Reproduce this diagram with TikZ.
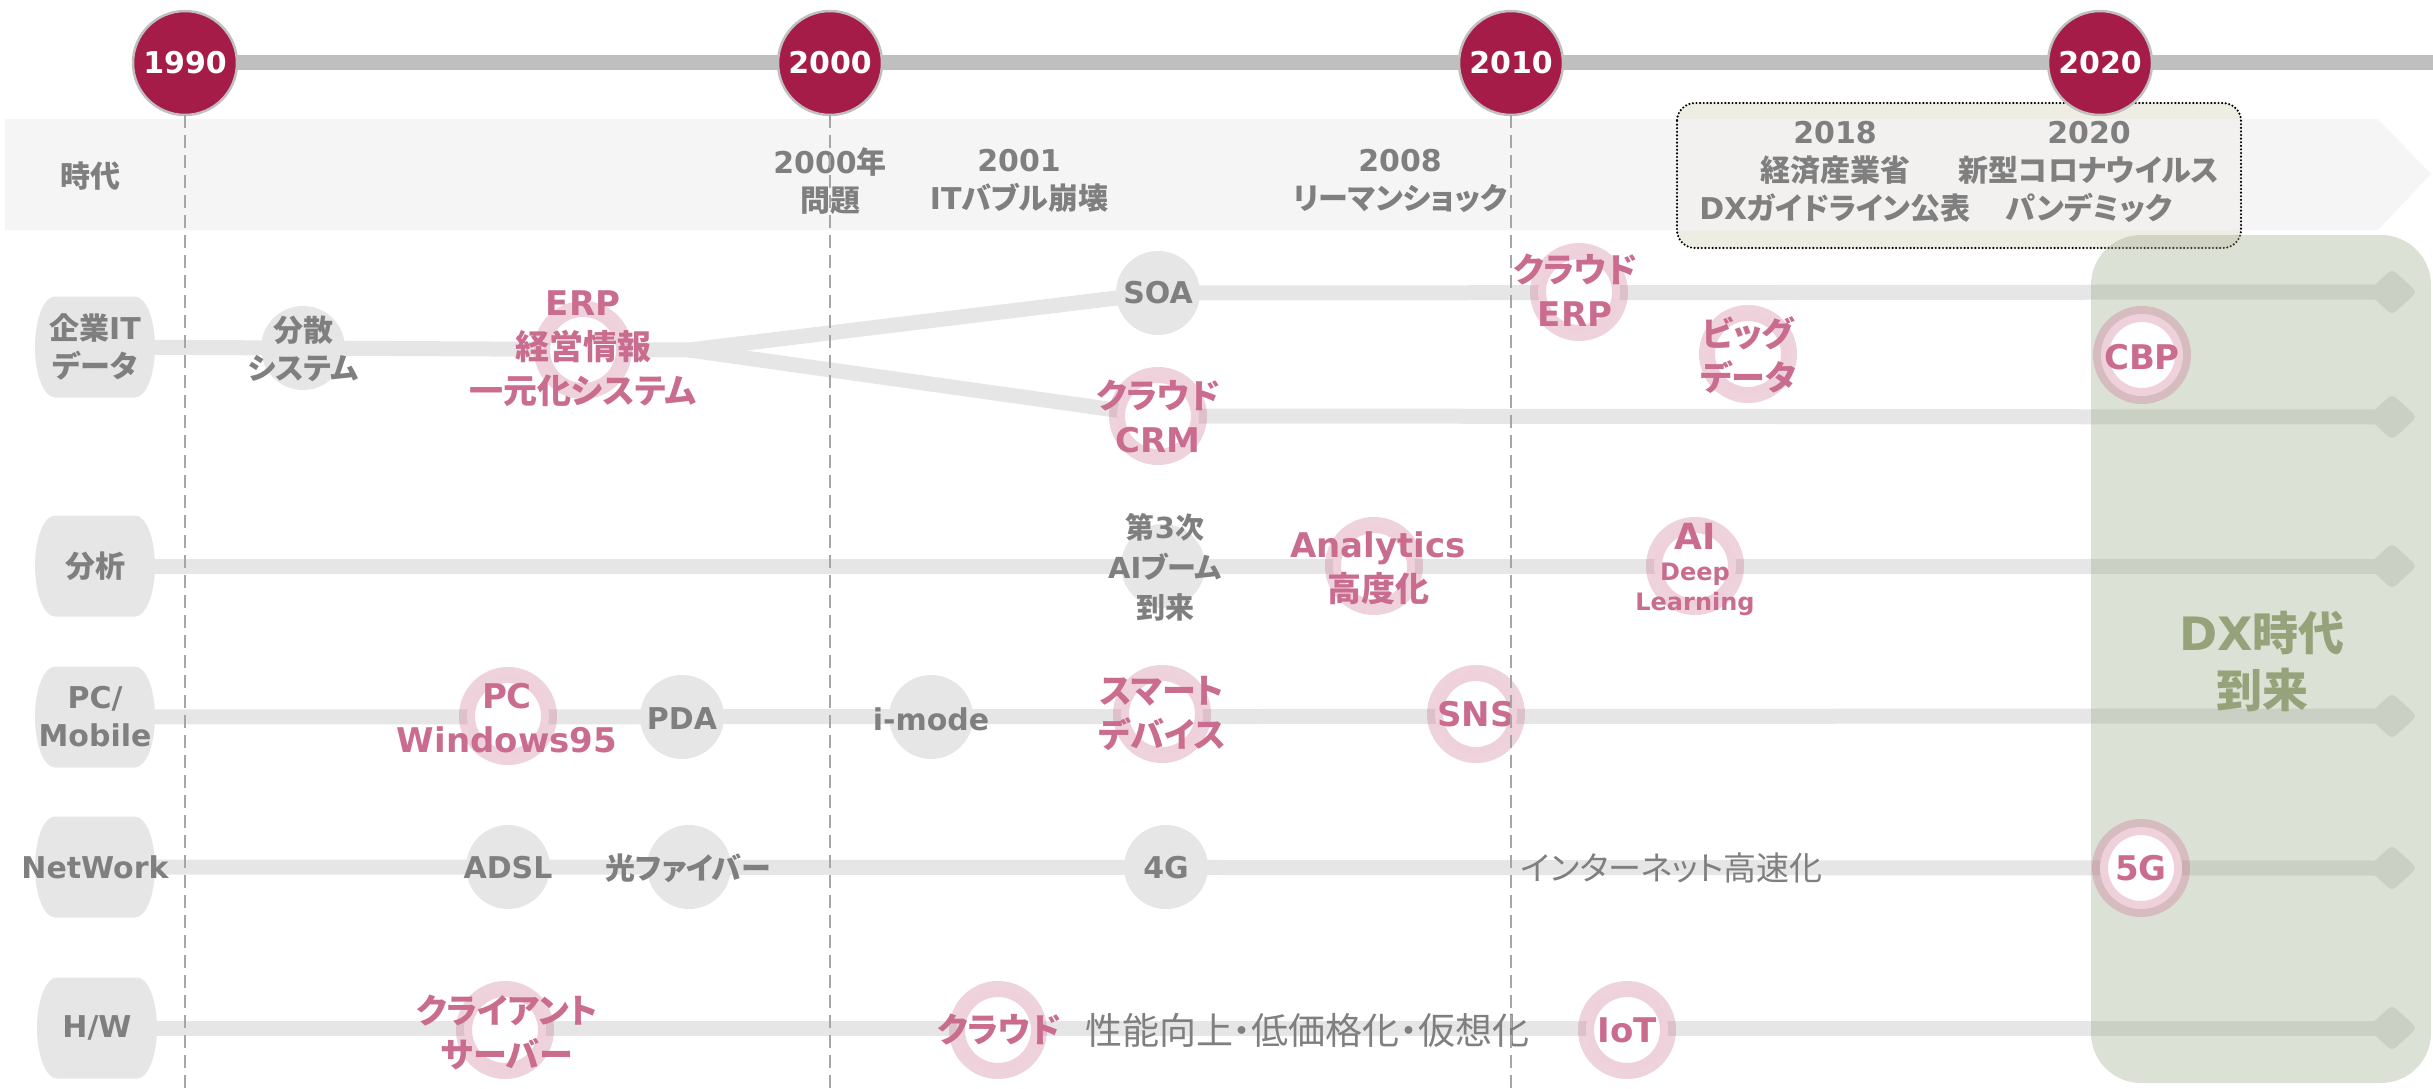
\documentclass[tikz,border=0pt]{standalone}
\usepackage{fontspec}
\setmainfont{Noto Sans CJK JP}[RawFeature={+palt}]
\newfontfamily\lat{DejaVu Sans}
\usetikzlibrary{shapes.geometric}
\pgfdeclarelayer{bgl}
\pgfdeclarelayer{linel}
\pgfdeclarelayer{greenl}
\pgfdeclarelayer{fgl}
\pgfsetlayers{bgl,linel,greenl,main,fgl}
\definecolor{crim}{HTML}{A51C48}
\definecolor{barc}{HTML}{BFBFBF}
\definecolor{lg}{HTML}{E6E6E6}
\definecolor{txtg}{HTML}{7F7F7F}
\definecolor{pk}{HTML}{C96C8E}
\definecolor{ringc}{HTML}{C8698A}
\definecolor{bandc}{HTML}{F3F3F3}
\definecolor{evbox}{HTML}{EEEDE3}
\definecolor{dxg}{HTML}{9BA88A}
\definecolor{dxt}{HTML}{95A27A}
\definecolor{dashc}{HTML}{A6A6A6}
\tikzset{
  every node/.style={inner sep=0pt, outer sep=0pt},
  yearc/.style={circle, fill=crim, draw=barc, line width=2.5pt, minimum size=104pt, text=white, font=\lat\bfseries\fontsize{30}{36}\selectfont},
  gtxt/.style={text=txtg, align=center, font=\bfseries\fontsize{30}{38}\selectfont},
  gthin/.style={text=txtg, align=center, font=\fontsize{33}{38}\selectfont},
  ptxt/.style={text=pk, align=center, font=\bfseries\fontsize{34}{44}\selectfont},
  labbox/.style={rectangle, minimum width=120pt, minimum height=101pt},
  gcirc/.style={circle, fill=lg, minimum size=84pt},
  ringnode/.style={circle, fill=white, draw=ringc, draw opacity=0.3, line width=16pt, minimum size=82pt},
  arrowhead/.style={diamond, fill=lg, minimum width=50pt, minimum height=46pt, rounded corners=5pt},
  rowline/.style={draw=lg, line width=15pt, line join=round},
  yeardash/.style={draw=dashc, line width=1.5pt, dash pattern=on 13pt off 7pt},
  dotborder/.style={draw=black, line width=2.4pt, dash pattern=on 0pt off 3.6pt, line cap=round},
}
\newcommand\rowlab[4]{%
  \fill[lg] (#2-40,#3-50.5) -- (#2+40,#3-50.5)
    arc[start angle=90,end angle=-90,x radius=20pt,y radius=50.5pt]
    -- (#2-40,#3+50.5)
    arc[start angle=270,end angle=90,x radius=20pt,y radius=50.5pt] -- cycle;
  \node[labbox, gtxt] (#1) at (#2,#3) {#4};}
\begin{document}
\begin{tikzpicture}[x=1pt,y=-1pt]
\useasboundingbox (0,0) rectangle (2433,1089);
\coordinate (barend) at (2433,63);
\coordinate (bottom) at (0,1089);
% year circles
\node[yearc] (y1990) at (185,63) {1990};
\node[yearc] (y2000) at (830,63) {2000};
\node[yearc] (y2010) at (1511,63) {2010};
\node[yearc] (y2020) at (2100,63) {2020};
% band texts
\node[gtxt] (tJidai) at (90,176) {時代};
\node[gtxt] (e2000) at (830,181) {{\lat 2000}年\\問題};
\node[gtxt] (e2001) at (1019,181) {{\lat 2001}\\{\lat IT}バブル崩壊};
\node[gtxt] (e2008) at (1400,181) {{\lat 2008}\\リーマンショック};
\node[gtxt] (e2018) at (1835,172) {{\lat 2018}\\経済産業省\\{\lat DX}ガイドライン公表};
\node[gtxt] (e2020) at (2089,172) {{\lat 2020}\\新型コロナウイルス\\パンデミック};
% row labels
\rowlab{lab1}{95}{347}{企業{\lat IT}\\データ}
\rowlab{lab2}{95}{566}{分析}
\rowlab{lab3}{95}{717}{{\lat PC/}\\{\lat Mobile}}
\rowlab{lab4}{95}{867}{{\lat NetWork}}
\rowlab{lab5}{97}{1028}{{\lat H/W}}
% row 1
\coordinate (split) at (689,350);
\node[gcirc] (cBunsan) at (303,348) {};
\node[gtxt] (tBunsan) at (303,349) {分散\\システム};
\node[ringnode] (rERP) at (583,350) {};
\node[ptxt] (tERP) at (583,349) {{\lat ERP}\\経営情報\\一元化システム};
\node[gcirc] (cSOA) at (1158,293) {};
\node[gtxt] (tSOA) at (1158,293) {\lat SOA};
\node[ringnode] (rCRM) at (1158,416) {};
\node[ptxt] (tCRM) at (1158,416) {クラウド\\{\lat CRM}};
\node[ringnode] (rCERP) at (1579,292) {};
\node[ptxt] (tCERP) at (1575,290) {クラウド\\{\lat ERP}};
\node[ringnode] (rBig) at (1748,354) {};
\node[ptxt] (tBig) at (1748,355) {ビッグ\\データ};
\node[ringnode] (rCBP) at (2142,355) {};
\node[ptxt] (tCBP) at (2142,357) {\lat CBP};
% row 2
\node[gcirc] (cAIboom) at (1163,566) {};
\node[gtxt, font=\bfseries\fontsize{29}{40}\selectfont] (tAIboom) at (1165,567) {第{\lat 3}次\\{\lat AI}ブーム\\到来};
\node[ringnode] (rAna) at (1374,566) {};
\node[ptxt] (tAna) at (1378,568) {{\lat Analytics}\\高度化};
\node[ringnode] (rAI) at (1695,566) {};
\node[ptxt, font=\lat\bfseries\fontsize{36}{40}\selectfont] (tAI) at (1695,536) {AI};
\node[ptxt, font=\lat\bfseries\fontsize{24}{30}\selectfont] (tDeep) at (1695,574) {Deep};
\node[ptxt, font=\lat\bfseries\fontsize{24}{30}\selectfont] (tLearn) at (1695,604) {Learning};
% row 3
\node[ringnode] (rPC) at (508,716) {};
\node[ptxt] (tPC) at (507,718) {{\lat PC}\\{\lat Windows95}};
\node[gcirc] (cPDA) at (682,717) {};
\node[gtxt] (tPDA) at (682,719) {\lat PDA};
\node[gcirc] (cImode) at (931,717) {};
\node[gtxt] (tImode) at (931,719) {\lat i-mode};
\node[ringnode] (rSmart) at (1162,714) {};
\node[ptxt] (tSmart) at (1162,713) {スマート\\デバイス};
\node[ringnode] (rSNS) at (1476,714) {};
\node[ptxt] (tSNS) at (1476,714) {\lat SNS};
% row 4
\node[gcirc] (cADSL) at (508,867) {};
\node[gtxt] (tADSL) at (508,868) {\lat ADSL};
\node[gcirc] (cHikari) at (689,867) {};
\node[gtxt] (tHikari) at (688,868) {光ファイバー};
\node[gcirc] (c4G) at (1166,867) {};
\node[gtxt] (t4G) at (1166,868) {\lat 4G};
\node[gthin] (tNet) at (1672,868) {インターネット高速化};
\node[ringnode] (r5G) at (2141,868) {};
\node[ptxt] (t5G) at (2141,868) {\lat 5G};
% row 5
\node[ringnode] (rCS) at (505,1030) {};
\node[ptxt] (tCS) at (507,1032) {クライアント\\サーバー};
\node[ringnode] (rCloud) at (998,1030) {};
\node[ptxt] (tCloud) at (999,1030) {クラウド};
\node[gthin, font=\fontsize{37}{40}\selectfont] (tPerf) at (1307,1030) {性能向上・低価格化・仮想化};
\node[ringnode] (rIoT) at (1627,1030) {};
\node[ptxt] (tIoT) at (1627,1030) {\lat IoT};
% DX text
\node[text=dxt, align=center, font=\bfseries\fontsize{46}{57}\selectfont] (dx) at (2262,661) {{\lat DX}時代\\到来};

\begin{pgfonlayer}{bgl}
  \fill[evbox, rounded corners=18pt] (1677,103) rectangle (2241,248);
  \fill[bandc, fill opacity=0.82] (5,119) -- (2378,119) -- (2431,174) -- (2378,230) -- (5,230) -- cycle;
  \draw[dotborder, rounded corners=18pt] (1677,103) rectangle (2241,248);
  \draw[draw=barc, line width=15pt] (y1990.center) -- (barend);
\end{pgfonlayer}

\begin{pgfonlayer}{linel}
  \node[arrowhead] (ah1) at (2392,292) {};
  \node[arrowhead] (ah2) at (2392,417) {};
  \node[arrowhead] (ah3) at (2392,566) {};
  \node[arrowhead] (ah4) at (2392,716) {};
  \node[arrowhead] (ah5) at (2392,868) {};
  \node[arrowhead] (ah6) at (2392,1028) {};
  \draw[rowline] (lab1.center) -- (split);
  \draw[rowline] (split) -- (cSOA.center) -- (ah1.center);
  \draw[rowline] (split) -- (rCRM.center) -- (ah2.center);
  \draw[rowline] (lab2.center) -- (ah3.center);
  \draw[rowline] (lab3.center) -- (ah4.center);
  \draw[rowline] (lab4.center) -- (ah5.center);
  \draw[rowline] (lab5.center) -- (ah6.center);
\end{pgfonlayer}

\begin{pgfonlayer}{greenl}
  \fill[dxg, fill opacity=0.35, rounded corners=50pt] (2091,235) rectangle (2431,1083);
\end{pgfonlayer}

\begin{pgfonlayer}{fgl}
  \draw[yeardash] (y1990.south) -- (y1990.south |- bottom);
  \draw[yeardash] (y2000.south) -- (y2000.south |- bottom);
  \draw[yeardash] (y2010.south) -- (y2010.south |- bottom);
\end{pgfonlayer}
\end{tikzpicture}
\end{document}
